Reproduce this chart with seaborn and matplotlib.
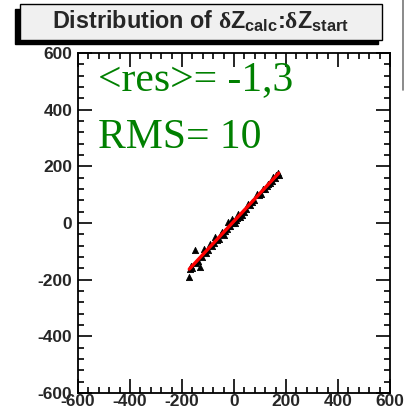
import numpy as np
import pandas as pd
import matplotlib
matplotlib.use("Agg")
import matplotlib.pyplot as plt
from matplotlib.patches import Rectangle
from matplotlib.lines import Line2D
from matplotlib.ticker import MultipleLocator
import seaborn as sns

# data
dz_calc = [-172, -170, -165, -160, -150, -145, -140, -131, -125, -115, -108, -100, -92, -85,
           -78, -73, -65, -58, -50, -47, -40, -33, -28, -22, -18, -15, -12, -9, -5, -2, 2,
           4, 8, 12, 17, 20, 23, 30, 38, 45, 55, 62, 70, 78, 87, 95, 103, 113, 120, 126,
           132, 140, 145, 151, 158, 163, 170, 172]
dz_start = [-191, -161, -150, -158, -97, -140, -135, -157, -120, -91, -105, -95, -73, -80,
            -72, -50, -60, -55, -40, -32, -42, -28, -20, 3, -10, -12, 2, 15, 0, 8, 0,
            9, 12, 18, 32, 25, 20, 30, 40, 48, 68, 62, 75, 80, 103, 98, 103, 120, 120, 130,
            138, 140, 148, 161, 160, 168, 175, 170]
title_text = (r"Distribution of $\mathrm{\delta}$Z$_{\mathbf{calc}}$:"
              r"$\mathrm{\delta}$Z$_{\mathbf{start}}$")
stat_lines = ["<res>= -1,3", "RMS= 10"]
ticks = [-600, -400, -200, 0, 200, 400, 600]

df = pd.DataFrame({"calc": dz_calc, "start": dz_start})

sns.set_theme(style="white")
plt.rcParams['font.family'] = ['Liberation Sans', 'DejaVu Sans']
plt.rcParams['axes.unicode_minus'] = False
plt.rcParams['mathtext.fontset'] = 'custom'
plt.rcParams['mathtext.rm'] = 'Liberation Serif:bold'
plt.rcParams['mathtext.it'] = 'Liberation Serif:italic'
plt.rcParams['mathtext.bf'] = 'Liberation Sans:bold'

fig = plt.figure(figsize=(4.05, 4.15), dpi=100)
W, H = 405, 415
ax = fig.add_axes([78 / W, (H - 393) / H, 312 / W, 340 / H])

sns.scatterplot(data=df, x="calc", y="start", ax=ax, color="black", marker="^",
                s=20, edgecolor="black", linewidth=0.6, zorder=2)
coef = np.polyfit(df["calc"], df["start"], 1)
xs = np.array([df["calc"].min(), df["calc"].max()])
ax.plot(xs, np.polyval(coef, xs), color="red", lw=2.4, zorder=3)

ax.set_xlim(-600, 600)
ax.set_ylim(-600, 600)
ax.set_xticks(ticks)
ax.set_yticks(ticks)
ax.xaxis.set_minor_locator(MultipleLocator(40))
ax.yaxis.set_minor_locator(MultipleLocator(40))
ax.tick_params(which="both", direction="in", top=True, right=True, bottom=True, left=True,
               color="black", width=1.2)
ax.tick_params(which="major", length=10, labelsize=12.5)
ax.tick_params(axis="x", which="major", pad=1)
ax.tick_params(axis="y", which="major", pad=4)
ax.set_xlabel("")
ax.set_ylabel("")
for lab in ax.get_xticklabels() + ax.get_yticklabels():
    lab.set_fontweight("bold")
for sp in ax.spines.values():
    sp.set_color("black")
    sp.set_linewidth(1.3)

ax.text(-523, 469, stat_lines[0], color="#008000", fontsize=30,
        family=["Liberation Serif"], va="baseline")
ax.text(-523, 265, stat_lines[1], color="#008000", fontsize=30,
        family=["Liberation Serif"], va="baseline")

# title box with shadow
fig.patches.append(Rectangle((15 / W, (H - 44) / H), 363 / W, 35 / H,
                             transform=fig.transFigure, facecolor="black",
                             edgecolor="black", zorder=1))
fig.patches.append(Rectangle((20 / W, (H - 40) / H), 362 / W, 36 / H,
                             transform=fig.transFigure, facecolor="#f0f0f0",
                             edgecolor="black", linewidth=1.0, zorder=2))
fig.text(200 / W, (H - 21) / H, title_text, ha="center", va="center", fontsize=16.8,
         fontweight="bold", zorder=3)
fig.lines.append(Line2D([403 / W, 403 / W], [1, (H - 90) / H], transform=fig.transFigure,
                        color="#777777", lw=1.2))

fig.savefig("out.png", dpi=100)
